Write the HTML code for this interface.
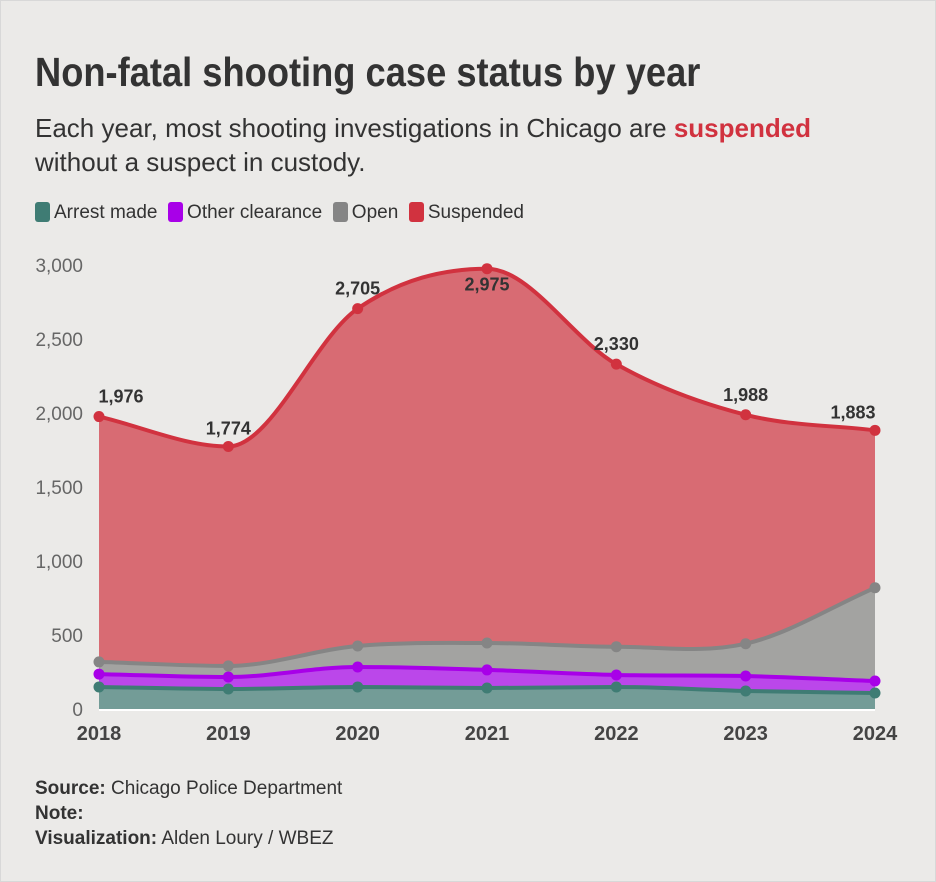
<!DOCTYPE html>
<html><head><meta charset="utf-8"><style>
body{margin:0;background:#fff;}
#wrap{position:absolute;left:0;top:0;width:934px;height:880px;background:#ebeae8;border:1px solid #d8d8d8;font-family:"Liberation Sans Narrow","Liberation Sans",sans-serif;color:#333;}
.t{position:absolute;white-space:nowrap;}
.sw{display:inline-block;width:15px;height:20px;border-radius:3px;vertical-align:-4px;margin-right:4px;}
</style></head><body>
<div id="wrap">
<div class="t" style="left:34px;top:48px;font-size:41px;font-weight:bold;color:#333;transform:scaleX(0.885);transform-origin:left top;">Non-fatal shooting case status by year</div>
<div class="t" style="left:34px;top:110px;font-size:26px;line-height:34px;color:#333;">Each year, most shooting investigations in Chicago are <b style="color:#d1323f">suspended</b><br>without a suspect in custody.</div>
<div class="t" style="left:34px;top:201px;font-size:19px;color:#333;">
<span><span class="sw" style="background:#3f7c74"></span>Arrest made</span>&nbsp;
<span><span class="sw" style="background:#a800e8"></span>Other clearance</span>&nbsp;
<span><span class="sw" style="background:#858585"></span>Open</span>&nbsp;
<span><span class="sw" style="background:#d1323f"></span>Suspended</span></div>
<svg id="c" width="936" height="760" style="position:absolute;left:0;top:0"></svg>
<div class="t" style="left:34px;top:775px;font-size:19px;line-height:25px;"><b>Source:</b> Chicago Police Department<br><b>Note:</b><br><b>Visualization:</b> Alden Loury / WBEZ</div>
</div>
<script>
const years=[2018,2019,2020,2021,2022,2023,2024];
const arrest=[149,135,149,142,149,122,108];
const other=[87,81,135,122,81,101,81];
const open=[82,75,142,182,191,218,630];
const totals=[1976,1774,2705,2975,2330,1988,1883];
const yTicks=[0,500,1000,1500,2000,2500,3000];
const NS='http://www.w3.org/2000/svg';
const svg=document.getElementById('c');
const x=i=>98+i*(874-98)/(years.length-1);
const y=v=>708-v*(444/3000);
function el(t,a){const e=document.createElementNS(NS,t);for(const k in a)e.setAttribute(k,a[k]);svg.appendChild(e);return e;}
function mono(pts){const n=pts.length,d=[],m=[];for(let i=0;i<n-1;i++)d.push((pts[i+1][1]-pts[i][1])/(pts[i+1][0]-pts[i][0]));
m[0]=d[0];m[n-1]=d[n-2];for(let i=1;i<n-1;i++)m[i]=d[i-1]*d[i]<=0?0:(d[i-1]+d[i])/2;
let p='M'+pts[0][0]+','+pts[0][1];for(let i=0;i<n-1;i++){const h=(pts[i+1][0]-pts[i][0])/3;p+=`C${pts[i][0]+h},${pts[i][1]+m[i]*h} ${pts[i+1][0]-h},${pts[i+1][1]-m[i+1]*h} ${pts[i+1][0]},${pts[i+1][1]}`;}return p;}
const c1=arrest,c2=arrest.map((v,i)=>v+other[i]),c3=c2.map((v,i)=>v+open[i]),c4=totals;
const layers=[[c4,'#d86b73','#d1323f','suspended'],[c3,'#a3a3a1','#858585','open'],[c2,'#bb47ea','#a800e8','other-clearance'],[c1,'#739c97','#3f7c74','arrest-made']];
layers.forEach(([vals,fill,stroke,name])=>{
const pts=vals.map((v,i)=>[x(i),y(v)]);const line=mono(pts);
const a=el('path',{d:line+`L${x(6)},${y(0)}L${x(0)},${y(0)}Z`,fill:fill});

const l=el('path',{d:line,fill:'none',stroke:stroke,'stroke-width':4});

vals.forEach((v,i)=>{const p=el('circle',{cx:x(i),cy:y(v),r:5.5,fill:stroke});});
});
const b=el('line',{x1:x(0),x2:x(6),y1:y(0)+1,y2:y(0)+1,stroke:'#fff','stroke-width':2});

yTicks.forEach(v=>{const t=el('text',{x:82,y:y(v)+7,'text-anchor':'end','font-size':19,fill:'#666','font-family':'Liberation Sans Narrow,Liberation Sans,sans-serif'});t.textContent=v.toLocaleString('en-US');});
years.forEach((yr,i)=>{const t=el('text',{x:x(i),y:739,'text-anchor':'middle','font-size':20,'font-weight':'bold',fill:'#444','font-family':'Liberation Sans Narrow,Liberation Sans,sans-serif'});t.textContent=yr;});
const lblOff=[[22,-14],[0,-12],[0,-14],[0,22],[0,-14],[0,-14],[-22,-12]];
totals.forEach((v,i)=>{const t=el('text',{x:x(i)+lblOff[i][0],y:y(v)+lblOff[i][1],'text-anchor':'middle','font-size':18,'font-weight':'bold',fill:'#333','font-family':'Liberation Sans Narrow,Liberation Sans,sans-serif'});t.textContent=v.toLocaleString('en-US');});
</script>
</body></html>
